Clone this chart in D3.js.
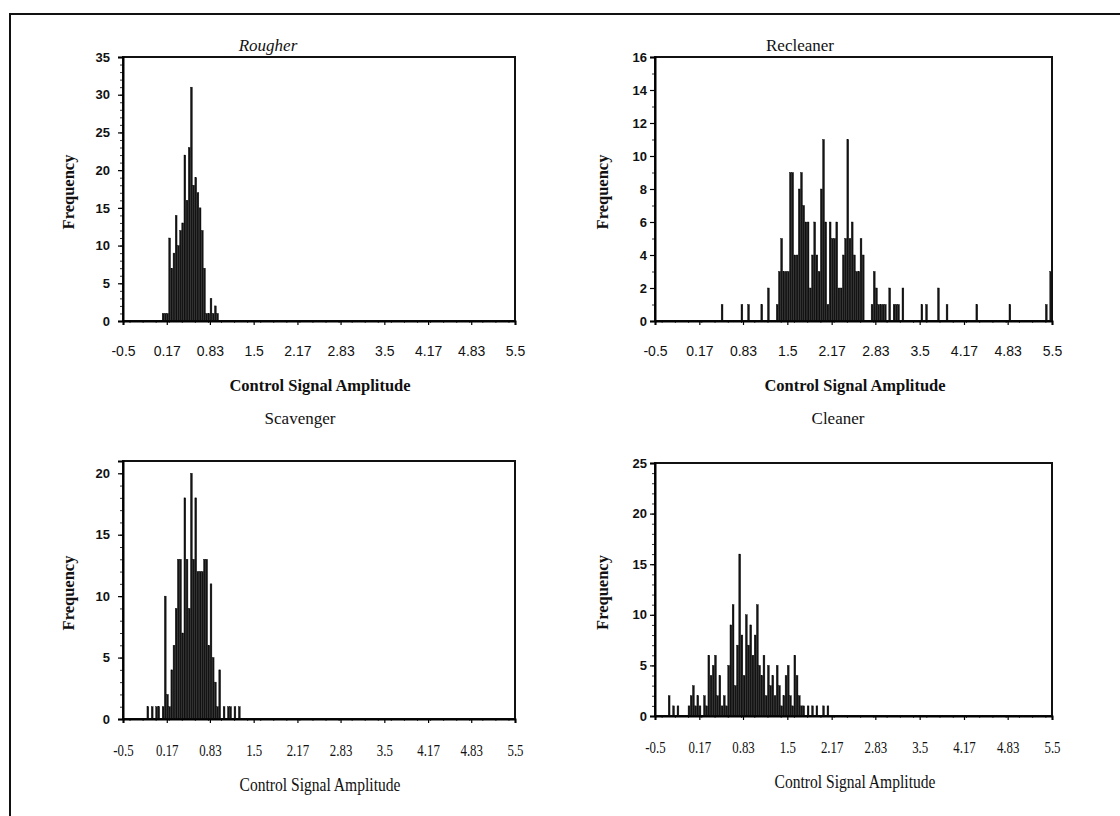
<!DOCTYPE html>
<html>
<head>
<meta charset="utf-8">
<script src="https://cdn.jsdelivr.net/npm/d3@7"></script>
<style>
body { margin: 0; background: #fff; }
svg { display: block; }
</style>
</head>
<body>
<svg id="chart" width="1120" height="816"></svg>
<script>
// bin width of the histograms (control signal amplitude)
const binWidth = 1 / 30;

const tickValues = [-0.5, 0.17, 0.83, 1.5, 2.17, 2.83, 3.5, 4.17, 4.83, 5.5];
const tickLabels = ["-0.5", "0.17", "0.83", "1.5", "2.17", "2.83", "3.5", "4.17", "4.83", "5.5"];

const rougherTicks = [0, 5, 10, 15, 20, 25, 30, 35];
const recleanerTicks = [0, 2, 4, 6, 8, 10, 12, 14, 16];
const scavengerTicks = [0, 5, 10, 15, 20];
const cleanerTicks = [0, 5, 10, 15, 20, 25];

// Rougher : consecutive bins from rougherStart
const rougherStart = 0.1;
const rougherFreq = [1, 1, 1, 11, 7, 9, 14, 10, 12, 13, 22, 16, 23, 31, 18, 19, 17, 15, 12, 7, 1, 1, 3, 1, 2, 1];

// Recleaner : dense part + scattered bins
const recleanerStart = 1.3333;
const recleanerFreq = [1, 3, 5, 3, 3, 3, 9, 9, 4, 4, 8, 9, 7, 6, 6, 2, 4, 6, 4, 3,
  8, 11, 6, 1, 6, 5, 5, 6, 2, 2, 4, 5, 11, 5, 6, 4, 3, 3, 5, 4,
  0, 0, 0, 1, 3, 2, 1, 1, 1, 1, 0, 2, 0, 1, 1, 1, 0, 2];
const recleanerOutAmp = [0.5, 0.8, 0.9, 1.1, 1.2, 3.52, 3.59, 3.77, 3.9, 4.35, 4.85, 5.4, 5.4667];
const recleanerOutFreq = [1, 1, 1, 1, 2, 1, 1, 2, 1, 1, 1, 1, 3];

// Scavenger
const scavengerStart = -0.1333;
const scavengerFreq = [1, 0, 1, 0, 1, 1, 0, 1, 10, 2, 1, 4, 6, 9, 13, 13, 7, 18, 13, 9,
  20, 13, 18, 12, 12, 12, 13, 13, 6, 11, 5, 3, 1, 4, 0, 1, 0, 1, 1, 0, 1, 0, 1];

// Cleaner
const cleanerStart = -0.3;
const cleanerFreq = [2, 0, 1, 0, 1, 0, 0, 0, 0, 1, 2, 3, 1, 2, 1, 0, 2, 1, 6, 4,
  5, 6, 2, 4, 1, 2, 1, 5, 9, 11, 3, 7, 16, 8, 4, 10, 7, 9, 6, 8,
  11, 5, 4, 6, 2, 5, 3, 4, 2, 5, 3, 1, 2, 4, 5, 2, 1, 6, 4, 2,
  1, 1, 0, 1, 0, 1, 0, 1, 0, 0, 1, 0, 1];

const svg = d3.select("#chart");

// outer frame of the scanned figure
svg.append("path")
  .attr("d", "M10,816 L10,14 L1120,14")
  .attr("fill", "none")
  .attr("stroke", "#111")
  .attr("stroke-width", 2);

const panels = [
  { title: "Rougher", italic: true, tx: 268, ty: 51, left: 123, right: 515, top: 57, bottom: 321,
    yMax: 35, yTicks: rougherTicks, start: rougherStart, freq: rougherFreq, outAmp: [], outFreq: [],
    lower: false, yLabRight: 110, freqX: 68, xTitleX: 320 },
  { title: "Recleaner", italic: false, tx: 800, ty: 51, left: 655, right: 1052, top: 57, bottom: 321,
    yMax: 16, yTicks: recleanerTicks, start: recleanerStart, freq: recleanerFreq,
    outAmp: recleanerOutAmp, outFreq: recleanerOutFreq,
    lower: false, yLabRight: 647, freqX: 602, xTitleX: 855 },
  { title: "Scavenger", italic: false, tx: 300, ty: 424, left: 123, right: 515, top: 461, bottom: 719,
    yMax: 21, yTicks: scavengerTicks, start: scavengerStart, freq: scavengerFreq, outAmp: [], outFreq: [],
    lower: true, yLabRight: 110, freqX: 68, xTitleX: 320 },
  { title: "Cleaner", italic: false, tx: 838, ty: 424, left: 655, right: 1052, top: 463, bottom: 716,
    yMax: 25, yTicks: cleanerTicks, start: cleanerStart, freq: cleanerFreq, outAmp: [], outFreq: [],
    lower: true, yLabRight: 647, freqX: 602, xTitleX: 855 }
];

panels.forEach(drawPanel);

function drawPanel(p) {
  var x = d3.scaleLinear().domain([-0.5, 5.5]).range([p.left, p.right]);
  var y = d3.scaleLinear().domain([0, p.yMax]).range([p.bottom, p.top]);
  var bw = x(binWidth) - x(0);

  var bins = p.freq.map(function(f, i) { return { amp: p.start + i * binWidth, f: f }; })
    .concat(p.outAmp.map(function(a, i) { return { amp: a, f: p.outFreq[i] }; }))
    .filter(function(d) { return d.f > 0; });

  var g = svg.append("g");

  g.selectAll("rect.bar")
    .data(bins)
    .enter().append("rect")
    .attr("class", "bar")
    .attr("x", function(d) { return x(d.amp); })
    .attr("width", Math.max(1.4, bw - 0.4))
    .attr("y", function(d) { return y(d.f); })
    .attr("height", function(d) { return y(0) - y(d.f); })
    .attr("fill", "#141414")
    .attr("stroke", "#000")
    .attr("stroke-width", 0.4);

  // plot area frame
  g.append("rect")
    .attr("x", p.left).attr("y", p.top)
    .attr("width", p.right - p.left).attr("height", p.bottom - p.top)
    .attr("fill", "none").attr("stroke", "#111").attr("stroke-width", 2);

  // minor ticks on y axis
  g.append("g")
    .attr("transform", "translate(" + p.left + ",0)")
    .call(d3.axisLeft(y).ticks(p.yMax).tickSize(3).tickFormat(""))
    .call(function(s) { s.select(".domain").remove(); s.selectAll("line").attr("stroke-width", 0.8); });

  // y axis
  var yAx = g.append("g")
    .attr("transform", "translate(" + p.left + ",0)")
    .call(d3.axisLeft(y).tickValues(p.yTicks).tickSize(5).tickPadding(p.left - p.yLabRight - 5));
  yAx.select(".domain").attr("stroke-width", 2);
  yAx.selectAll("line").attr("stroke-width", 1.2);
  yAx.selectAll("text")
    .attr("font-family", "'Liberation Sans', Arial, sans-serif")
    .attr("font-size", 13)
    .attr("font-weight", "bold")
    .attr("fill", "#111");

  // minor ticks on x axis
  g.append("g")
    .attr("transform", "translate(0," + p.bottom + ")")
    .call(d3.axisBottom(x).ticks(36).tickSize(2).tickFormat(""))
    .call(function(s) { s.select(".domain").remove(); s.selectAll("line").attr("stroke-width", 0.7); });

  // x axis
  var xAx = g.append("g")
    .attr("transform", "translate(0," + p.bottom + ")")
    .call(d3.axisBottom(x).tickValues(tickValues)
      .tickFormat(function(d, i) { return tickLabels[i]; })
      .tickSize(4).tickPadding(21));
  xAx.select(".domain").attr("stroke-width", 2);
  xAx.selectAll("line").attr("stroke-width", 1.2);
  var xt = xAx.selectAll("text").attr("fill", "#111");
  if (p.lower) {
    xt.attr("font-family", "'Liberation Serif', 'Times New Roman', serif")
      .attr("font-size", 16.5)
      .attr("transform", "scale(0.78,1)");
  } else {
    xt.attr("font-family", "'Liberation Sans', Arial, sans-serif")
      .attr("font-size", 14);
  }

  // title
  g.append("text")
    .attr("x", p.tx).attr("y", p.ty)
    .attr("text-anchor", "middle")
    .attr("font-family", "'Liberation Serif', 'Times New Roman', serif")
    .attr("font-size", 17)
    .attr("font-style", p.italic ? "italic" : "normal")
    .attr("fill", "#111")
    .text(p.title);

  // axis titles
  var xTitle = g.append("text")
    .attr("text-anchor", "middle")
    .attr("font-family", "'Liberation Serif', 'Times New Roman', serif")
    .attr("font-size", 16.5)
    .attr("font-weight", "bold")
    .attr("fill", "#111")
    .text("Control Signal Amplitude");
  if (p.lower) {
    xTitle.attr("font-weight", "normal").attr("font-size", 19)
      .attr("transform", "translate(" + p.xTitleX + "," + (p.bottom + 72) + ") scale(0.82,1)");
  } else {
    xTitle.attr("transform", "translate(" + p.xTitleX + "," + (p.bottom + 70) + ")");
  }

  g.append("text")
    .attr("transform", "translate(" + p.freqX + "," + ((p.top + p.bottom) / 2 + 3) + ") rotate(-90)")
    .attr("text-anchor", "middle")
    .attr("dy", "0.35em")
    .attr("font-family", "'Liberation Serif', 'Times New Roman', serif")
    .attr("font-size", 16.5)
    .attr("font-weight", "bold")
    .attr("fill", "#111")
    .text("Frequency");
}
</script>
</body>
</html>
